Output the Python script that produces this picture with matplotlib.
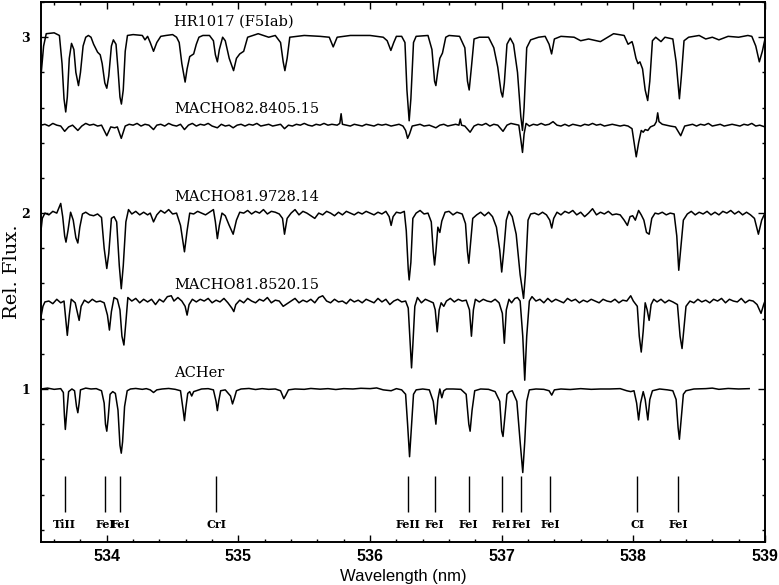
import numpy as np
import matplotlib
matplotlib.use("Agg")
import matplotlib.pyplot as plt
from matplotlib.ticker import MultipleLocator

# spectra (wavelength in nm, offset relative flux)
hr_wl = [533.50, 533.52, 533.54, 533.60, 533.64, 533.66, 533.675, 533.688, 533.70, 533.715,
         533.732, 533.75, 533.765, 533.785, 533.80, 533.82, 533.84, 533.86, 533.88, 533.90,
         533.93, 533.95, 533.965, 533.985, 534.00, 534.015, 534.035, 534.05, 534.07, 534.085,
         534.10, 534.111, 534.125, 534.14, 534.157, 534.20, 534.27, 534.29, 534.31, 534.33,
         534.355, 534.38, 534.41, 534.45, 534.50, 534.53, 534.55, 534.57, 534.595, 534.61,
         534.63, 534.66, 534.68, 534.70, 534.73, 534.78, 534.81, 534.825, 534.84, 534.855,
         534.88, 534.90, 534.93, 534.963, 534.985, 535.01, 535.04, 535.07, 535.15, 535.23,
         535.28, 535.32, 535.34, 535.353, 535.37, 535.39, 535.50, 535.62, 535.69, 535.72,
         535.75, 535.85, 536.00, 536.10, 536.13, 536.158, 536.18, 536.20, 536.24, 536.265,
         536.28, 536.297, 536.31, 536.33, 536.35, 536.44, 536.47, 536.49, 536.50, 536.515,
         536.53, 536.55, 536.575, 536.60, 536.68, 536.72, 536.74, 536.753, 536.77, 536.79,
         536.83, 536.90, 536.94, 536.97, 536.995, 537.007, 537.02, 537.04, 537.065, 537.09,
         537.12, 537.145, 537.158, 537.17, 537.19, 537.22, 537.28, 537.33, 537.36, 537.379,
         537.40, 537.45, 537.55, 537.60, 537.66, 537.75, 537.85, 537.93, 537.96, 537.99,
         538.00, 538.02, 538.035, 538.05, 538.07, 538.09, 538.109, 538.125, 538.145, 538.17,
         538.21, 538.24, 538.30, 538.325, 538.35, 538.365, 538.385, 538.42, 538.50, 538.55,
         538.60, 538.65, 538.72, 538.80, 538.87, 538.90, 538.93, 538.957, 538.98, 539.00]
hr_flux = [2.78, 2.95, 3.02, 3.025, 3.01, 2.85, 2.65, 2.575, 2.66, 2.88,
           2.965, 2.93, 2.80, 2.725, 2.80, 2.95, 3.00, 3.01, 3.00, 2.96,
           2.915, 2.90, 2.85, 2.74, 2.71, 2.78, 2.95, 2.985, 2.96, 2.82,
           2.66, 2.62, 2.70, 2.92, 3.01, 3.015, 3.01, 2.985, 3.005, 2.97,
           2.92, 2.97, 3.005, 3.01, 3.015, 3.00, 2.97, 2.85, 2.745, 2.82,
           2.89, 2.905, 2.96, 3.00, 3.01, 3.01, 2.98, 2.90, 2.86, 2.93,
           3.00, 2.98, 2.88, 2.81, 2.88, 2.905, 2.92, 3.00, 3.02, 3.00,
           3.01, 2.97, 2.86, 2.81, 2.88, 3.00, 3.01, 3.005, 3.00, 2.945,
           3.00, 3.01, 3.01, 3.00, 2.98, 2.925, 2.97, 3.005, 3.005, 2.97,
           2.70, 2.525, 2.65, 2.97, 3.005, 3.01, 2.93, 2.75, 2.725, 2.81,
           2.88, 2.91, 3.00, 3.01, 3.005, 2.94, 2.75, 2.70, 2.83, 2.99,
           3.00, 3.00, 2.94, 2.83, 2.69, 2.66, 2.74, 2.96, 2.995, 2.96,
           2.80, 2.55, 2.47, 2.60, 2.94, 2.985, 3.00, 3.005, 2.96, 2.905,
           2.99, 3.005, 3.00, 2.98, 2.99, 2.975, 3.02, 3.01, 2.96, 2.975,
           2.95, 2.88, 2.85, 2.86, 2.82, 2.70, 2.64, 2.75, 2.98, 3.00,
           2.975, 3.00, 2.99, 2.86, 2.65, 2.78, 2.98, 3.00, 3.01, 2.99,
           3.00, 2.985, 3.005, 3.00, 3.01, 3.005, 2.95, 2.86, 2.92, 2.99]

m82_wl = [533.50, 533.53, 533.56, 533.59, 533.62, 533.65, 533.68, 533.71, 533.74, 533.78,
          533.81, 533.84, 533.87, 533.90, 533.93, 533.96, 534.00, 534.03, 534.06, 534.08,
          534.11, 534.14, 534.17, 534.20, 534.23, 534.26, 534.29, 534.32, 534.355, 534.38,
          534.41, 534.44, 534.47, 534.50, 534.53, 534.56, 534.59, 534.62, 534.65, 534.68,
          534.71, 534.74, 534.77, 534.80, 534.84, 534.87, 534.90, 534.93, 534.96, 534.99,
          535.02, 535.05, 535.08, 535.11, 535.14, 535.17, 535.20, 535.23, 535.26, 535.29,
          535.32, 535.35, 535.38, 535.41, 535.44, 535.47, 535.50, 535.53, 535.56, 535.59,
          535.62, 535.65, 535.68, 535.71, 535.75, 535.77, 535.78, 535.79, 535.82, 535.85,
          535.88, 535.91, 535.94, 535.97, 536.00, 536.03, 536.06, 536.09, 536.12, 536.16,
          536.19, 536.22, 536.25, 536.27, 536.285, 536.30, 536.32, 536.35, 536.38, 536.41,
          536.45, 536.50, 536.53, 536.56, 536.59, 536.62, 536.65, 536.675, 536.685, 536.695,
          536.72, 536.76, 536.79, 536.82, 536.85, 536.88, 536.91, 536.94, 536.97, 537.01,
          537.04, 537.07, 537.10, 537.13, 537.145, 537.158, 537.17, 537.185, 537.21, 537.24,
          537.27, 537.30, 537.33, 537.36, 537.39, 537.42, 537.45, 537.48, 537.51, 537.54,
          537.57, 537.60, 537.63, 537.66, 537.69, 537.72, 537.75, 537.78, 537.81, 537.84,
          537.87, 537.90, 537.93, 537.96, 537.99, 538.01, 538.022, 538.04, 538.06, 538.075,
          538.09, 538.11, 538.13, 538.16, 538.175, 538.185, 538.195, 538.22, 538.25, 538.28,
          538.32, 538.36, 538.39, 538.42, 538.45, 538.48, 538.51, 538.54, 538.57, 538.60,
          538.63, 538.66, 538.69, 538.72, 538.75, 538.78, 538.81, 538.84, 538.87, 538.90,
          538.93, 538.96, 539.00]
m82_flux = [2.50, 2.505, 2.495, 2.51, 2.50, 2.495, 2.465, 2.49, 2.50, 2.47,
            2.495, 2.51, 2.50, 2.505, 2.495, 2.50, 2.44, 2.49, 2.485, 2.49,
            2.425, 2.495, 2.505, 2.50, 2.51, 2.495, 2.505, 2.50, 2.475, 2.50,
            2.505, 2.495, 2.51, 2.50, 2.495, 2.505, 2.475, 2.50, 2.51, 2.495,
            2.505, 2.50, 2.51, 2.495, 2.485, 2.505, 2.495, 2.50, 2.485, 2.50,
            2.505, 2.495, 2.505, 2.50, 2.51, 2.495, 2.50, 2.505, 2.495, 2.50,
            2.505, 2.48, 2.50, 2.495, 2.505, 2.50, 2.51, 2.50, 2.495, 2.505,
            2.50, 2.51, 2.50, 2.505, 2.50, 2.51, 2.565, 2.505, 2.50, 2.495,
            2.505, 2.50, 2.495, 2.505, 2.50, 2.495, 2.505, 2.50, 2.505, 2.495,
            2.50, 2.505, 2.495, 2.47, 2.425, 2.45, 2.495, 2.50, 2.505, 2.495,
            2.50, 2.485, 2.50, 2.505, 2.495, 2.50, 2.505, 2.50, 2.535, 2.50,
            2.495, 2.46, 2.495, 2.505, 2.50, 2.51, 2.495, 2.505, 2.50, 2.465,
            2.50, 2.51, 2.505, 2.50, 2.42, 2.345, 2.45, 2.51, 2.495, 2.505,
            2.50, 2.51, 2.50, 2.505, 2.52, 2.50, 2.495, 2.505, 2.495, 2.505,
            2.50, 2.495, 2.505, 2.50, 2.51, 2.50, 2.505, 2.495, 2.50, 2.505,
            2.50, 2.495, 2.50, 2.495, 2.48, 2.38, 2.32, 2.40, 2.47, 2.46,
            2.475, 2.47, 2.49, 2.50, 2.52, 2.57, 2.52, 2.505, 2.50, 2.495,
            2.49, 2.44, 2.495, 2.50, 2.505, 2.495, 2.505, 2.50, 2.51, 2.495,
            2.50, 2.505, 2.495, 2.50, 2.505, 2.50, 2.495, 2.505, 2.50, 2.51,
            2.495, 2.50, 2.49]

m81a_wl = [533.50, 533.51, 533.53, 533.56, 533.59, 533.62, 533.65, 533.665, 533.68, 533.69,
           533.705, 533.725, 533.745, 533.765, 533.78, 533.795, 533.815, 533.84, 533.87, 533.90,
           533.93, 533.96, 533.98, 534.00, 534.015, 534.035, 534.055, 534.075, 534.095, 534.11,
           534.125, 534.145, 534.165, 534.19, 534.22, 534.25, 534.28, 534.31, 534.33, 534.355,
           534.38, 534.41, 534.44, 534.47, 534.50, 534.53, 534.56, 534.59, 534.61, 534.63,
           534.66, 534.69, 534.72, 534.75, 534.78, 534.81, 534.825, 534.84, 534.855, 534.875,
           534.90, 534.93, 534.96, 534.985, 535.01, 535.04, 535.07, 535.10, 535.13, 535.16,
           535.19, 535.22, 535.25, 535.28, 535.31, 535.335, 535.35, 535.37, 535.40, 535.43,
           535.46, 535.49, 535.52, 535.55, 535.58, 535.61, 535.64, 535.67, 535.70, 535.73,
           535.76, 535.79, 535.82, 535.85, 535.88, 535.91, 535.94, 535.97, 536.00, 536.03,
           536.06, 536.09, 536.12, 536.145, 536.16, 536.175, 536.20, 536.23, 536.26, 536.275,
           536.29, 536.297, 536.31, 536.325, 536.35, 536.38, 536.41, 536.44, 536.465, 536.48,
           536.49, 536.50, 536.515, 536.53, 536.545, 536.57, 536.60, 536.63, 536.66, 536.70,
           536.725, 536.74, 536.75, 536.765, 536.78, 536.81, 536.84, 536.87, 536.90, 536.93,
           536.96, 536.985, 537.00, 537.015, 537.035, 537.055, 537.08, 537.11, 537.14, 537.166,
           537.18, 537.20, 537.22, 537.25, 537.28, 537.31, 537.34, 537.365, 537.38, 537.395,
           537.42, 537.45, 537.48, 537.51, 537.54, 537.57, 537.60, 537.63, 537.66, 537.69,
           537.72, 537.75, 537.78, 537.81, 537.84, 537.87, 537.90, 537.93, 537.955, 537.975,
           537.995, 538.015, 538.04, 538.06, 538.08, 538.10, 538.12, 538.14, 538.165, 538.19,
           538.22, 538.25, 538.28, 538.31, 538.33, 538.345, 538.36, 538.38, 538.41, 538.44,
           538.47, 538.50, 538.53, 538.56, 538.59, 538.62, 538.65, 538.68, 538.71, 538.74,
           538.77, 538.80, 538.83, 538.86, 538.89, 538.92, 538.95, 538.975, 539.00]
m81a_flux = [1.90, 1.97, 2.00, 1.99, 2.01, 2.00, 2.055, 1.98, 1.87, 1.835,
             1.90, 2.005, 1.96, 1.86, 1.83, 1.92, 1.995, 2.005, 1.99, 1.985,
             1.995, 1.975, 1.80, 1.685, 1.77, 1.97, 1.98, 1.95, 1.70, 1.57,
             1.70, 1.95, 2.02, 1.995, 2.01, 1.99, 2.005, 1.99, 2.00, 1.95,
             1.99, 2.015, 2.00, 2.02, 1.995, 2.00, 1.93, 1.78, 1.90, 2.00,
             1.995, 2.01, 2.00, 1.99, 2.005, 2.02, 1.95, 1.855, 1.93, 2.00,
             1.985, 1.93, 1.88, 1.96, 2.005, 2.00, 2.015, 1.995, 2.01, 2.00,
             2.02, 1.995, 2.01, 2.005, 1.995, 1.97, 1.88, 1.97, 2.00, 2.02,
             1.99, 2.01, 2.00, 1.985, 1.97, 2.00, 1.99, 2.01, 2.00, 1.985,
             2.005, 1.99, 2.01, 2.00, 1.99, 2.005, 1.995, 2.01, 2.00, 1.99,
             2.005, 1.995, 2.01, 1.98, 1.93, 1.98, 2.005, 2.00, 2.01, 1.90,
             1.68, 1.62, 1.72, 1.97, 2.00, 2.015, 1.995, 2.00, 1.95, 1.78,
             1.705, 1.78, 1.92, 1.89, 1.955, 2.005, 2.01, 1.99, 2.005, 1.995,
             1.94, 1.78, 1.715, 1.84, 1.97, 1.99, 2.005, 1.985, 2.005, 1.98,
             1.92, 1.79, 1.665, 1.78, 1.96, 2.01, 1.98, 1.88, 1.65, 1.515,
             1.65, 1.96, 1.995, 2.00, 1.99, 2.005, 1.99, 1.96, 1.915, 1.97,
             2.005, 1.99, 2.01, 2.00, 2.015, 1.99, 2.005, 1.98, 2.00, 2.025,
             1.99, 2.005, 1.995, 2.01, 1.99, 1.995, 1.99, 1.96, 1.93, 1.98,
             1.985, 1.96, 2.015, 1.99, 1.96, 1.89, 1.88, 1.97, 2.00, 1.995,
             2.005, 1.99, 2.00, 1.995, 1.87, 1.675, 1.80, 1.96, 1.995, 2.01,
             1.99, 2.005, 1.995, 2.01, 1.99, 2.005, 1.99, 2.01, 2.00, 2.015,
             1.995, 2.01, 1.99, 2.005, 1.99, 1.97, 1.88, 1.96, 2.00]

m81b_wl = [533.50, 533.515, 533.53, 533.56, 533.59, 533.62, 533.65, 533.675, 533.69, 533.70,
           533.715, 533.73, 533.76, 533.775, 533.79, 533.805, 533.83, 533.86, 533.89, 533.92,
           533.95, 533.98, 534.005, 534.02, 534.035, 534.055, 534.08, 534.10, 534.115, 534.13,
           534.145, 534.16, 534.19, 534.22, 534.25, 534.28, 534.31, 534.34, 534.37, 534.40,
           534.43, 534.46, 534.49, 534.51, 534.54, 534.57, 534.595, 534.61, 534.625, 534.65,
           534.68, 534.71, 534.74, 534.77, 534.80, 534.83, 534.86, 534.89, 534.92, 534.95,
           534.965, 534.98, 535.01, 535.04, 535.07, 535.10, 535.13, 535.16, 535.19, 535.22,
           535.25, 535.28, 535.31, 535.34, 535.37, 535.40, 535.43, 535.46, 535.49, 535.52,
           535.55, 535.58, 535.61, 535.64, 535.67, 535.70, 535.73, 535.76, 535.79, 535.82,
           535.85, 535.88, 535.91, 535.94, 535.97, 536.00, 536.03, 536.06, 536.09, 536.12,
           536.15, 536.18, 536.21, 536.24, 536.27, 536.29, 536.305, 536.315, 536.325, 536.34,
           536.36, 536.39, 536.42, 536.45, 536.48, 536.495, 536.51, 536.525, 536.54, 536.56,
           536.58, 536.61, 536.64, 536.67, 536.70, 536.73, 536.755, 536.77, 536.785, 536.80,
           536.83, 536.86, 536.89, 536.92, 536.95, 536.98, 537.005, 537.02, 537.035, 537.055,
           537.075, 537.10, 537.12, 537.14, 537.16, 537.175, 537.19, 537.21, 537.23, 537.26,
           537.29, 537.32, 537.35, 537.38, 537.41, 537.44, 537.47, 537.50, 537.53, 537.56,
           537.59, 537.62, 537.65, 537.68, 537.71, 537.74, 537.77, 537.80, 537.83, 537.86,
           537.89, 537.92, 537.95, 537.98, 538.00, 538.03, 538.045, 538.06, 538.075, 538.09,
           538.105, 538.12, 538.135, 538.155, 538.18, 538.21, 538.24, 538.27, 538.30, 538.335,
           538.355, 538.37, 538.385, 538.40, 538.43, 538.46, 538.49, 538.52, 538.55, 538.58,
           538.61, 538.64, 538.67, 538.70, 538.73, 538.76, 538.79, 538.82, 538.85, 538.88,
           538.91, 538.94, 538.97, 538.99, 539.00]
m81b_flux = [1.41, 1.47, 1.495, 1.50, 1.485, 1.51, 1.49, 1.50, 1.38, 1.305,
             1.42, 1.51, 1.49, 1.44, 1.39, 1.47, 1.505, 1.49, 1.51, 1.495,
             1.50, 1.49, 1.42, 1.335, 1.44, 1.52, 1.51, 1.45, 1.30, 1.25,
             1.38, 1.52, 1.50, 1.515, 1.49, 1.51, 1.495, 1.51, 1.48, 1.51,
             1.495, 1.525, 1.53, 1.50, 1.52, 1.50, 1.47, 1.42, 1.48, 1.51,
             1.495, 1.51, 1.50, 1.515, 1.49, 1.505, 1.495, 1.515, 1.49, 1.46,
             1.44, 1.48, 1.505, 1.49, 1.515, 1.50, 1.49, 1.51, 1.50, 1.52,
             1.49, 1.505, 1.50, 1.47, 1.485, 1.50, 1.515, 1.49, 1.505, 1.495,
             1.51, 1.49, 1.52, 1.53, 1.50, 1.49, 1.51, 1.495, 1.50, 1.485,
             1.51, 1.495, 1.505, 1.49, 1.51, 1.50, 1.49, 1.515, 1.495, 1.51,
             1.48, 1.50, 1.51, 1.495, 1.50, 1.46, 1.25, 1.12, 1.25, 1.47,
             1.52, 1.49, 1.51, 1.50, 1.49, 1.45, 1.325, 1.45, 1.49, 1.47,
             1.50, 1.515, 1.495, 1.51, 1.50, 1.505, 1.45, 1.30, 1.45, 1.51,
             1.495, 1.51, 1.50, 1.495, 1.51, 1.49, 1.43, 1.26, 1.45, 1.51,
             1.49, 1.515, 1.52, 1.50, 1.30, 1.05, 1.30, 1.50, 1.525, 1.50,
             1.51, 1.49, 1.515, 1.495, 1.51, 1.50, 1.49, 1.515, 1.50, 1.51,
             1.49, 1.505, 1.495, 1.51, 1.50, 1.49, 1.51, 1.50, 1.495, 1.51,
             1.49, 1.505, 1.50, 1.53, 1.50, 1.47, 1.30, 1.21, 1.33, 1.49,
             1.45, 1.39, 1.48, 1.51, 1.495, 1.51, 1.49, 1.505, 1.495, 1.48,
             1.30, 1.23, 1.35, 1.47, 1.50, 1.49, 1.51, 1.495, 1.505, 1.49,
             1.51, 1.50, 1.515, 1.49, 1.51, 1.50, 1.495, 1.515, 1.49, 1.505,
             1.50, 1.48, 1.43, 1.48, 1.50]

ac_wl = [533.50, 533.55, 533.60, 533.65, 533.67, 533.678, 533.685, 533.695, 533.71, 533.735,
         533.755, 533.77, 533.78, 533.79, 533.80, 533.84, 533.88, 533.92, 533.96, 533.98,
         533.99, 534.00, 534.01, 534.025, 534.045, 534.065, 534.085, 534.10, 534.11, 534.12,
         534.135, 534.155, 534.18, 534.22, 534.27, 534.30, 534.33, 534.355, 534.38, 534.42,
         534.47, 534.52, 534.56, 534.58, 534.59, 534.60, 534.615, 534.63, 534.645, 534.66,
         534.68, 534.72, 534.77, 534.81, 534.83, 534.84, 534.85, 534.865, 534.90, 534.94,
         534.955, 534.97, 534.985, 535.02, 535.08, 535.13, 535.18, 535.23, 535.28, 535.32,
         535.345, 535.36, 535.38, 535.43, 535.50, 535.55, 535.62, 535.68, 535.74, 535.80,
         535.87, 535.93, 536.00, 536.05, 536.10, 536.16, 536.20, 536.24, 536.27, 536.285,
         536.30, 536.315, 536.33, 536.35, 536.40, 536.45, 536.48, 536.50, 536.515, 536.53,
         536.545, 536.56, 536.58, 536.63, 536.69, 536.73, 536.75, 536.76, 536.775, 536.795,
         536.84, 536.90, 536.95, 536.985, 537.00, 537.01, 537.025, 537.04, 537.06, 537.08,
         537.115, 537.14, 537.16, 537.175, 537.19, 537.21, 537.26, 537.32, 537.36, 537.38,
         537.40, 537.45, 537.52, 537.60, 537.68, 537.75, 537.82, 537.90, 537.95, 537.98,
         538.005, 538.025, 538.04, 538.055, 538.075, 538.09, 538.11, 538.125, 538.145, 538.20,
         538.26, 538.30, 538.325, 538.34, 538.35, 538.36, 538.38, 538.40, 538.46, 538.55,
         538.60, 538.65, 538.72, 538.80, 538.88]
ac_flux = [1.00, 1.005, 0.998, 1.002, 0.98, 0.85, 0.77, 0.86, 0.985, 1.00,
           0.99, 0.90, 0.865, 0.92, 0.995, 1.005, 1.00, 1.002, 0.99, 0.92,
           0.80, 0.76, 0.83, 0.97, 0.985, 0.975, 0.88, 0.68, 0.635, 0.70,
           0.90, 0.99, 1.00, 1.003, 0.998, 1.002, 0.995, 0.98, 0.995, 1.00,
           1.003, 0.998, 0.99, 0.88, 0.82, 0.89, 0.975, 0.985, 0.96, 0.985,
           0.99, 1.00, 1.002, 0.995, 0.93, 0.877, 0.93, 0.99, 0.995, 0.96,
           0.915, 0.95, 0.99, 1.00, 1.003, 0.997, 1.002, 0.998, 1.00, 0.99,
           0.945, 0.965, 0.995, 1.00, 0.998, 1.003, 0.999, 1.002, 0.997, 1.002,
           1.00, 1.004, 1.002, 1.006, 0.995, 0.99, 1.002, 0.995, 0.97, 0.80,
           0.615, 0.79, 0.97, 0.995, 1.00, 0.995, 0.93, 0.80, 0.94, 1.00,
           0.95, 0.99, 1.00, 1.00, 0.998, 0.97, 0.80, 0.76, 0.88, 0.99,
           1.00, 0.998, 0.985, 0.93, 0.76, 0.73, 0.85, 0.97, 0.985, 0.99,
           0.93, 0.70, 0.525, 0.70, 0.93, 0.995, 1.00, 0.998, 0.99, 0.965,
           0.995, 1.00, 0.997, 1.002, 0.998, 1.00, 1.00, 1.002, 0.99, 0.985,
           0.99, 0.92, 0.824, 0.92, 0.985, 0.94, 0.824, 0.94, 0.99, 1.00,
           0.995, 0.99, 0.94, 0.78, 0.714, 0.80, 0.97, 0.99, 1.00, 1.002,
           1.005, 0.998, 1.003, 1.00, 1.002]

star_names = ["HR1017 (F5Iab)", "MACHO82.8405.15", "MACHO81.9728.14",
              "MACHO81.8520.15", "ACHer"]
star_levels = [3.0, 2.5, 2.0, 1.5, 1.0]

line_wl = [533.68, 533.99, 534.10, 534.83, 536.29, 536.49, 536.75, 537.00,
           537.15, 537.37, 538.03, 538.34]
line_ids = ["TiII", "FeI", "FeI", "CrI", "FeII", "FeI", "FeI", "FeI",
            "FeI", "FeI", "CI", "FeI"]

fig = plt.figure(figsize=(7.79, 5.85), dpi=100)
ax = fig.add_axes([0.0526, 0.0735, 0.9294, 0.923])

for wl, fl in [(hr_wl, hr_flux), (m82_wl, m82_flux), (m81a_wl, m81a_flux),
               (m81b_wl, m81b_flux), (ac_wl, ac_flux)]:
    ax.plot(wl, fl, color="black", lw=1.1, solid_joinstyle="round")

for name, lev in zip(star_names, star_levels):
    ax.text(534.51, lev + 0.09, name, family="DejaVu Serif", fontsize=10.5,
            ha="left", va="center")

# line identifications
ax.vlines(line_wl, 0.30, 0.505, color="black", lw=1.0)
for w, lab in zip(line_wl, line_ids):
    ax.text(w, 0.227, lab, family="DejaVu Serif", fontsize=8, fontweight="bold",
            ha="center", va="center")

ax.set_xlim(533.5, 539.0)
ax.set_ylim(0.13, 3.2)
ax.xaxis.set_major_locator(MultipleLocator(1))
ax.xaxis.set_minor_locator(MultipleLocator(0.2))
ax.yaxis.set_major_locator(MultipleLocator(1))
ax.yaxis.set_minor_locator(MultipleLocator(0.2))
ax.tick_params(which="both", direction="in", top=True, right=True, width=1.0)
ax.tick_params(which="major", length=5)
ax.tick_params(which="minor", length=2.5)
ax.tick_params(axis="x", pad=5)
ax.tick_params(axis="y", pad=8)
for t in ax.get_xticklabels():
    t.set_family("Liberation Sans")
    t.set_fontsize(11.5)
    t.set_fontweight("bold")
for t in ax.get_yticklabels():
    t.set_family("DejaVu Serif")
    t.set_fontsize(9)
    t.set_fontweight("bold")
for s in ax.spines.values():
    s.set_linewidth(1.4)

ax.set_xlabel("Wavelength (nm)", family="Liberation Sans", fontsize=12, va="center")
ax.set_ylabel("Rel. Flux.", family="DejaVu Serif", fontsize=14, va="center")
ax.xaxis.set_label_coords(0.5, -0.063)
ax.yaxis.set_label_coords(-0.040, 0.5)

fig.savefig("out.png", dpi=100)
